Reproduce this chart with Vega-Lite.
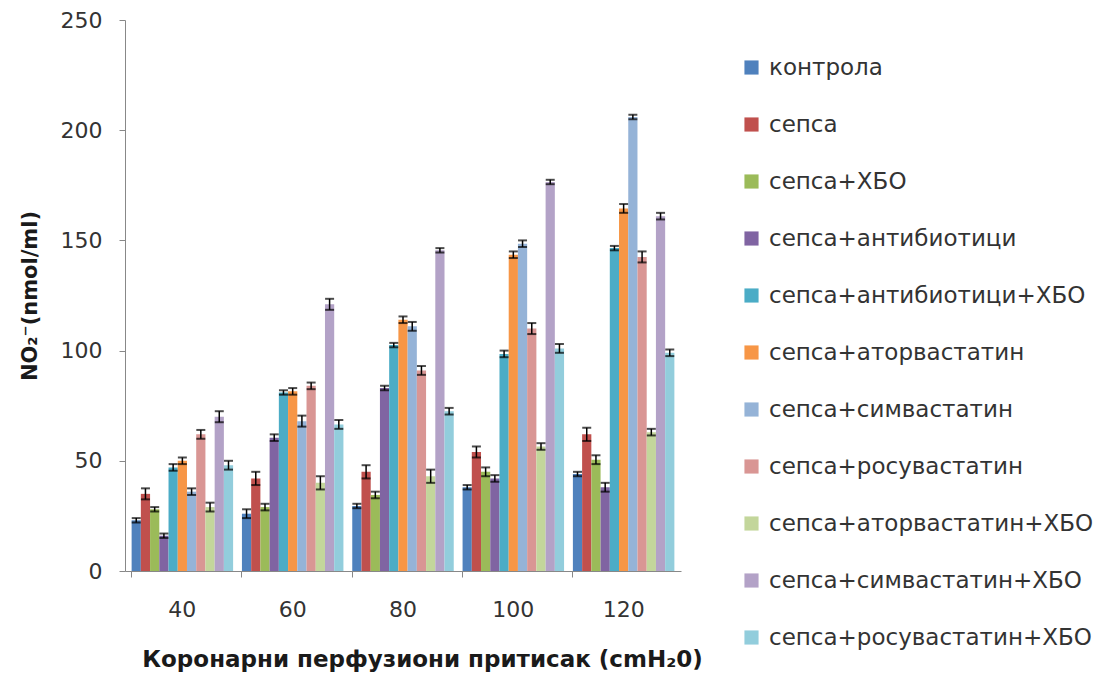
{
  "$schema": "https://vega.github.io/schema/vega-lite/v6.json",
  "width": 556,
  "height": 551,
  "autosize": {"type": "none"},
  "padding": {"left": 125, "top": 20, "right": 432, "bottom": 108},
  "background": "white",
  "config": {"view": {"stroke": null}, "font": "DejaVu Sans"},
  "data": {"values": [
    {"p":"40","g":"контрола","v":23,"lo":22,"hi":24},
    {"p":"40","g":"сепса","v":35,"lo":32.5,"hi":37.5},
    {"p":"40","g":"сепса+ХБО","v":28,"lo":27,"hi":29},
    {"p":"40","g":"сепса+антибиотици","v":16,"lo":15,"hi":17},
    {"p":"40","g":"сепса+антибиотици+ХБО","v":47,"lo":45.5,"hi":48.5},
    {"p":"40","g":"сепса+аторвастатин","v":50,"lo":48.5,"hi":51.5},
    {"p":"40","g":"сепса+симвастатин","v":36,"lo":34.5,"hi":37.5},
    {"p":"40","g":"сепса+росувастатин","v":62,"lo":60,"hi":64},
    {"p":"40","g":"сепса+аторвастатин+ХБО","v":29,"lo":27,"hi":31},
    {"p":"40","g":"сепса+симвастатин+ХБО","v":70,"lo":67.5,"hi":72.5},
    {"p":"40","g":"сепса+росувастатин+ХБО","v":48,"lo":46,"hi":50},

    {"p":"60","g":"контрола","v":26,"lo":24,"hi":28},
    {"p":"60","g":"сепса","v":42,"lo":39,"hi":45},
    {"p":"60","g":"сепса+ХБО","v":29,"lo":27.5,"hi":30.5},
    {"p":"60","g":"сепса+антибиотици","v":60.5,"lo":59,"hi":62},
    {"p":"60","g":"сепса+антибиотици+ХБО","v":81,"lo":80,"hi":82},
    {"p":"60","g":"сепса+аторвастатин","v":81.5,"lo":80,"hi":83},
    {"p":"60","g":"сепса+симвастатин","v":68,"lo":65.5,"hi":70.5},
    {"p":"60","g":"сепса+росувастатин","v":84,"lo":82.5,"hi":85.5},
    {"p":"60","g":"сепса+аторвастатин+ХБО","v":40,"lo":37,"hi":43},
    {"p":"60","g":"сепса+симвастатин+ХБО","v":121,"lo":118.5,"hi":123.5},
    {"p":"60","g":"сепса+росувастатин+ХБО","v":66.5,"lo":64.5,"hi":68.5},

    {"p":"80","g":"контрола","v":29.5,"lo":28.5,"hi":30.5},
    {"p":"80","g":"сепса","v":45,"lo":42,"hi":48},
    {"p":"80","g":"сепса+ХБО","v":34.5,"lo":33,"hi":36},
    {"p":"80","g":"сепса+антибиотици","v":83,"lo":82,"hi":84},
    {"p":"80","g":"сепса+антибиотици+ХБО","v":102.5,"lo":101.5,"hi":103.5},
    {"p":"80","g":"сепса+аторвастатин","v":114,"lo":112.5,"hi":115.5},
    {"p":"80","g":"сепса+симвастатин","v":111,"lo":109,"hi":113},
    {"p":"80","g":"сепса+росувастатин","v":91,"lo":89,"hi":93},
    {"p":"80","g":"сепса+аторвастатин+ХБО","v":43,"lo":40,"hi":46},
    {"p":"80","g":"сепса+симвастатин+ХБО","v":145.5,"lo":144.5,"hi":146.5},
    {"p":"80","g":"сепса+росувастатин+ХБО","v":72.5,"lo":71,"hi":74},

    {"p":"100","g":"контрола","v":38,"lo":37,"hi":39},
    {"p":"100","g":"сепса","v":54,"lo":51.5,"hi":56.5},
    {"p":"100","g":"сепса+ХБО","v":45,"lo":43,"hi":47},
    {"p":"100","g":"сепса+антибиотици","v":42,"lo":40.5,"hi":43.5},
    {"p":"100","g":"сепса+антибиотици+ХБО","v":98.5,"lo":97,"hi":100},
    {"p":"100","g":"сепса+аторвастатин","v":143.5,"lo":142,"hi":145},
    {"p":"100","g":"сепса+симвастатин","v":148.5,"lo":147,"hi":150},
    {"p":"100","g":"сепса+росувастатин","v":110,"lo":107.5,"hi":112.5},
    {"p":"100","g":"сепса+аторвастатин+ХБО","v":56.5,"lo":55,"hi":58},
    {"p":"100","g":"сепса+симвастатин+ХБО","v":176.5,"lo":175.5,"hi":177.5},
    {"p":"100","g":"сепса+росувастатин+ХБО","v":101,"lo":99,"hi":103},

    {"p":"120","g":"контрола","v":44,"lo":43,"hi":45},
    {"p":"120","g":"сепса","v":62,"lo":59,"hi":65},
    {"p":"120","g":"сепса+ХБО","v":50.5,"lo":48.5,"hi":52.5},
    {"p":"120","g":"сепса+антибиотици","v":38,"lo":36,"hi":40},
    {"p":"120","g":"сепса+антибиотици+ХБО","v":146.5,"lo":145.5,"hi":147.5},
    {"p":"120","g":"сепса+аторвастатин","v":164.5,"lo":162.5,"hi":166.5},
    {"p":"120","g":"сепса+симвастатин","v":206,"lo":205,"hi":207},
    {"p":"120","g":"сепса+росувастатин","v":142.5,"lo":140,"hi":145},
    {"p":"120","g":"сепса+аторвастатин+ХБО","v":63,"lo":61.5,"hi":64.5},
    {"p":"120","g":"сепса+симвастатин+ХБО","v":161,"lo":159.5,"hi":162.5},
    {"p":"120","g":"сепса+росувастатин+ХБО","v":99,"lo":97.5,"hi":100.5}
  ]},
  "encoding": {
    "x": {
      "field": "p", "type": "nominal", "sort": ["40","60","80","100","120"],
      "scale": {"paddingInner": 0.08, "paddingOuter": 0.06},
      "axis": {
        "title": "Коронарни  перфузиони притисак (cmH₂0)",
        "titleFont": "DejaVu Sans", "titleFontSize": 23, "titleFontWeight": "bold", "titleColor": "#1a1a1a",
        "titlePadding": 28, "titleX": 297,
        "labelFont": "DejaVu Sans", "labelFontSize": 22, "labelColor": "#333333", "labelAngle": 0, "labelPadding": 22,
        "domainColor": "#888888", "tickColor": "#888888", "tickSize": 6, "bandPosition": 0
      }
    },
    "xOffset": {
      "field": "g", "type": "nominal",
      "sort": ["контрола","сепса","сепса+ХБО","сепса+антибиотици","сепса+антибиотици+ХБО","сепса+аторвастатин","сепса+симвастатин","сепса+росувастатин","сепса+аторвастатин+ХБО","сепса+симвастатин+ХБО","сепса+росувастатин+ХБО"],
      "scale": {"paddingInner": 0, "paddingOuter": 0}
    }
  },
  "layer": [
    {
      "mark": {"type": "bar"},
      "encoding": {
        "y": {
          "field": "v", "type": "quantitative",
          "scale": {"domain": [0, 250], "nice": false},
          "axis": {
            "title": "NO₂⁻(nmol/ml)", "titleFont": "DejaVu Sans", "titleFontSize": 21, "titleFontWeight": "bold", "titleColor": "#1a1a1a",
            "titlePadding": 20,
            "values": [0, 50, 100, 150, 200, 250], "grid": false,
            "labelFont": "DejaVu Sans", "labelFontSize": 22, "labelColor": "#333333", "labelPadding": 17,
            "domainColor": "#888888", "tickColor": "#888888", "tickSize": 6
          }
        },
        "color": {
          "field": "g", "type": "nominal",
          "sort": ["контрола","сепса","сепса+ХБО","сепса+антибиотици","сепса+антибиотици+ХБО","сепса+аторвастатин","сепса+симвастатин","сепса+росувастатин","сепса+аторвастатин+ХБО","сепса+симвастатин+ХБО","сепса+росувастатин+ХБО"],
          "scale": {
            "domain": ["контрола","сепса","сепса+ХБО","сепса+антибиотици","сепса+антибиотици+ХБО","сепса+аторвастатин","сепса+симвастатин","сепса+росувастатин","сепса+аторвастатин+ХБО","сепса+симвастатин+ХБО","сепса+росувастатин+ХБО"],
            "range": ["#4F81BD","#C0504D","#9BBB59","#8064A2","#4BACC6","#F79646","#95B3D7","#D99694","#C3D69B","#B3A2C7","#92CDDC"]
          },
          "legend": {
            "title": null, "orient": "none", "legendX": 615, "legendY": 36,
            "symbolType": "square", "symbolSize": 200, "symbolStrokeWidth": 0,
            "labelFont": "DejaVu Sans", "labelFontSize": 23, "labelColor": "#333333", "labelLimit": 420,
            "rowPadding": 33, "labelOffset": 6
          }
        }
      }
    },
    {
      "mark": {"type": "rule", "color": "black", "strokeWidth": 1.5},
      "encoding": {
        "y": {"field": "lo", "type": "quantitative"},
        "y2": {"field": "hi"}
      }
    },
    {
      "mark": {"type": "tick", "color": "black", "thickness": 2, "size": 9},
      "encoding": {"y": {"field": "lo", "type": "quantitative"}}
    },
    {
      "mark": {"type": "tick", "color": "black", "thickness": 2, "size": 9},
      "encoding": {"y": {"field": "hi", "type": "quantitative"}}
    }
  ]
}
